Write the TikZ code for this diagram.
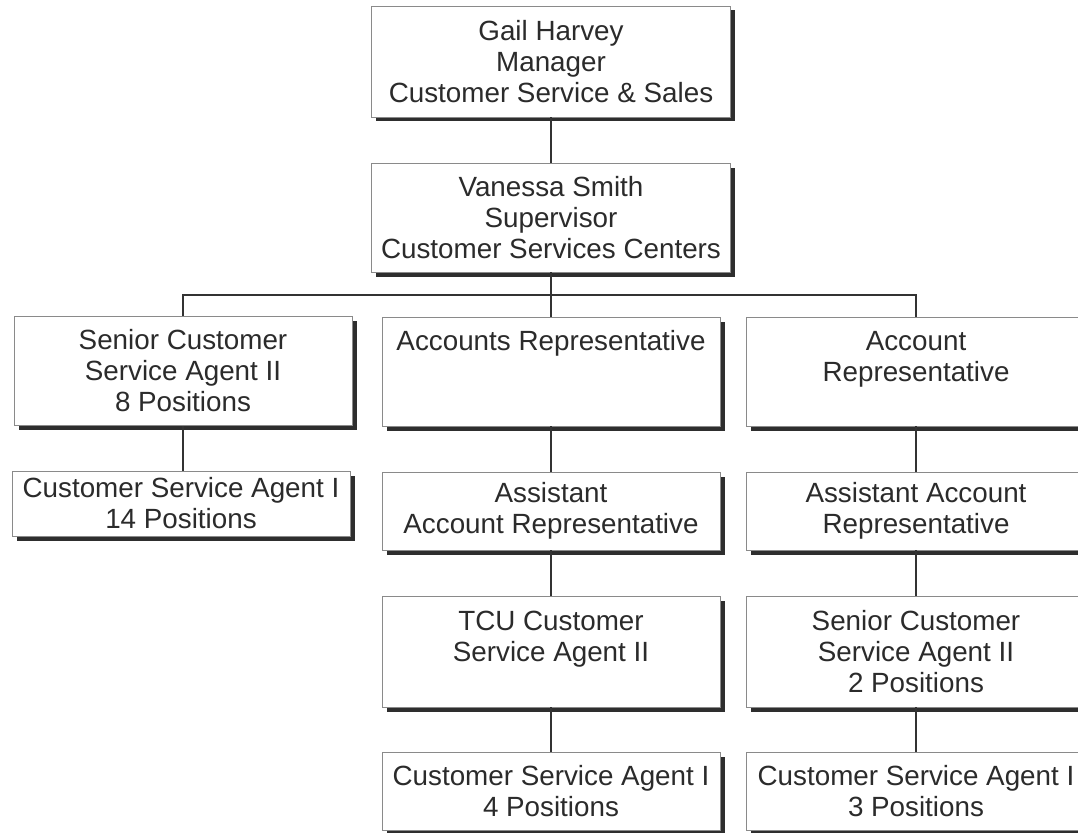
\documentclass[tikz,border=0pt]{standalone}
\usepackage{fontspec}
\setmainfont{Liberation Sans}
\usetikzlibrary{shadows}
\definecolor{txt}{HTML}{2B2B2B}
\definecolor{edge}{HTML}{8A8A8A}
\definecolor{shade}{HTML}{2E2E2E}
\definecolor{wire}{HTML}{333333}
\begin{document}
\begin{tikzpicture}[x=1pt,y=-1pt,
  orgbox/.style={draw=edge, line width=0.7pt, fill=white, inner sep=0pt,
    align=center, text=txt, font=\fontsize{27.8}{31}\selectfont,
    drop shadow={shadow xshift=4.5pt, shadow yshift=-4.5pt, opacity=1, fill=shade}},
  wide/.style={minimum width=359pt},
  col/.style={minimum width=338pt},
  short/.style={minimum height=78pt},
  wire/.style={draw=wire, line width=1.5pt}]
\useasboundingbox (0,0) rectangle (1078,832);
\clip (0,0) rectangle (1078,832);
% top
\node[orgbox, wide, minimum height=111pt] (gh) at (551,61.5) {Gail Harvey\\Manager\\Customer Service \& Sales};
\node[orgbox, wide, minimum height=109pt] (vs) at (551,217.5) {Vanessa Smith\\Supervisor\\Customer Services Centers};
% row 3
\node[orgbox, col, minimum height=109pt] (sc2) at (183,371) {Senior Customer\\Service Agent II\\8 Positions};
\node[orgbox, col, minimum height=109pt] (ar) at (551,371.5) {Accounts Representative\\~\\~};
\node[orgbox, minimum width=340pt, minimum height=109pt] (acr) at (916,371.5) {Account\\Representative\\~};
% row 4
\node[orgbox, col, minimum height=65pt] (csa14) at (181,503.5) {Customer Service Agent I\\14 Positions};
\node[orgbox, col, short] (aar) at (551,511) {Assistant\\Account Representative};
\node[orgbox, minimum width=340pt, short] (aacr) at (916,511) {Assistant Account\\Representative};
% row 5
\node[orgbox, col, minimum height=111pt] (tcu) at (551,651.5) {TCU Customer\\Service Agent II\\~};
\node[orgbox, minimum width=340pt, minimum height=111pt] (scr) at (916,651.5) {Senior Customer\\Service Agent II\\2 Positions};
% row 6
\node[orgbox, col, short] (csa4) at (551,791) {Customer Service Agent I\\4 Positions};
\node[orgbox, minimum width=340pt, short] (csa3) at (916,791) {Customer Service Agent I\\3 Positions};
% connectors
\coordinate (bus) at (551,295);
\draw[wire] (gh.south) -- (vs.north);
\draw[wire] (vs.south) -- (bus);
\draw[wire] (bus) -| (sc2.north);
\draw[wire] (bus) -| (ar.north);
\draw[wire] (bus) -| (acr.north);
\draw[wire] (sc2.south) -- (sc2.south |- csa14.north);
\draw[wire] (ar.south) -- (aar.north);
\draw[wire] (acr.south) -- (aacr.north);
\draw[wire] (aar.south) -- (tcu.north);
\draw[wire] (aacr.south) -- (scr.north);
\draw[wire] (tcu.south) -- (csa4.north);
\draw[wire] (scr.south) -- (csa3.north);
\end{tikzpicture}
\end{document}
